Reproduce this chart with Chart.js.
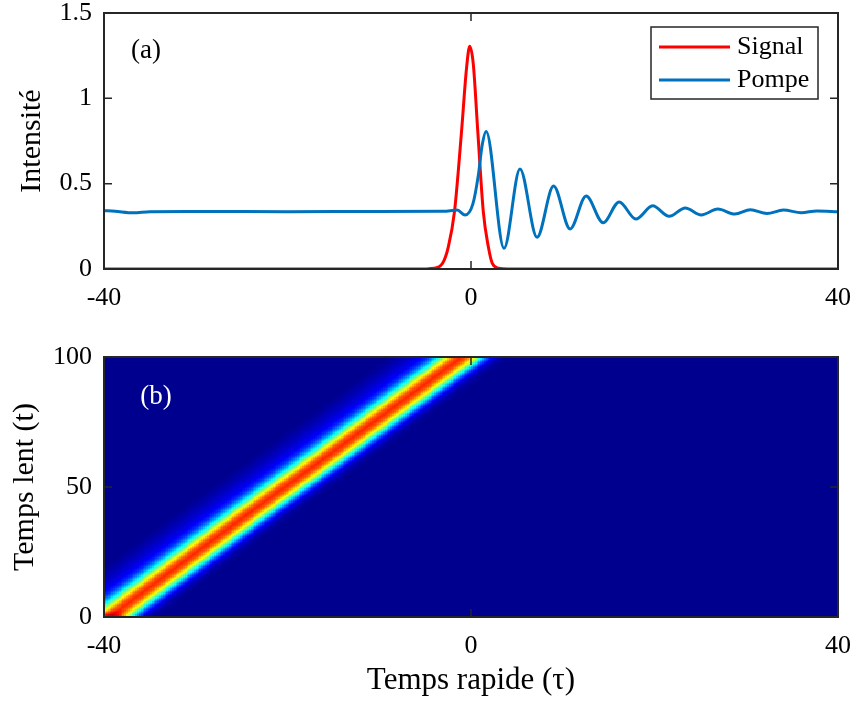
<!DOCTYPE html>
<html>
<head>
<meta charset="utf-8">
<script src="https://cdn.jsdelivr.net/npm/chart.js@4.4.1/dist/chart.umd.min.js"></script>
<style>
  html, body { margin: 0; padding: 0; background: #fff; }
  #wrap { position: relative; width: 855px; height: 702px; }
  #c1, #c2 { position: absolute; left: 0; }
  #c1 { top: 0; }
  #c2 { top: 330px; }
</style>
</head>
<body>
<div id="wrap">
  <canvas id="c1" width="855" height="330"></canvas>
  <canvas id="c2" width="855" height="372"></canvas>
</div>
<script>
// ---- axis ticks ----
const tauTicks = [-40, 0, 40];
const intensityTicks = [0, 0.5, 1, 1.5];
const slowTicks = [0, 50, 100];

// ---- (a) Signal ----
const signalTau = [-40, -6, -4, -3.1, -2.47, -1.8, -1.02, -0.5, -0.14, 0.25, 0.73, 1.34, 1.89, 2.32, 3, 4, 40];
const signalVal = [0, 0, 0.005, 0.033, 0.13, 0.336, 0.814, 1.17, 1.305, 1.2, 0.814, 0.336, 0.13, 0.033, 0.005, 0, 0];

// ---- (a) Pompe ----
const pumpTau = [-40, -38.8, -36.8, -35, -30, -20, -10, -3, -1.5, -0.65, 0.2, 0.8, 1.2, 1.65,
  3.6, 5.34, 7.2, 9.0, 10.8, 12.55, 14.4, 16.15, 17.97, 19.8, 21.6, 23.35, 25.1, 26.9, 28.75,
  30.45, 32.25, 34.05, 36.0, 37.7, 40];
const pumpVal = [0.342, 0.338, 0.329, 0.336, 0.337, 0.336, 0.337, 0.338, 0.345, 0.316, 0.38, 0.55, 0.72, 0.806,
  0.121, 0.586, 0.186, 0.486, 0.235, 0.428, 0.271, 0.393, 0.293, 0.37, 0.309, 0.358, 0.317, 0.351, 0.322,
  0.347, 0.325, 0.345, 0.33, 0.34, 0.336];

// ---- (b) map: band centre along slow time, and profile across the band (colour level 0..1) ----
const bandT = [0, 20, 40, 60, 80, 100];
const bandCenter = [-39.4, -31.8, -24.2, -16.4, -8.7, -1.0];
const bandGainT = [0, 1, 3, 100];
const bandGain = [1.2, 1.08, 1, 1];
const profileOffset = [-8, -7, -5.8, -4.4, -3.6, -2.9, -2.2, -1.45, -0.7, 0, 0.7, 1.45, 2.2, 2.9, 3.6, 4.4, 5.2];
const profileLevel = [0, 0.02, 0.05, 0.1, 0.16, 0.27, 0.42, 0.62, 0.78, 0.84, 0.78, 0.62, 0.4, 0.2, 0.08, 0.02, 0];

const FONT = "'Liberation Serif', 'Times New Roman', serif";
const AX = '#262626';

function interp(xs, ys, x) {
  if (x <= xs[0]) return ys[0];
  if (x >= xs[xs.length - 1]) return ys[ys.length - 1];
  for (let i = 1; i < xs.length; i++) {
    if (x <= xs[i]) {
      const f = (x - xs[i - 1]) / (xs[i] - xs[i - 1]);
      return ys[i - 1] + f * (ys[i] - ys[i - 1]);
    }
  }
}

const jetStops = [[0, [0, 0, 143]], [0.111, [0, 0, 255]], [0.365, [0, 255, 255]],
  [0.619, [255, 255, 0]], [0.873, [255, 0, 0]], [1, [128, 0, 0]]];
function jet(v) {
  v = Math.max(0, Math.min(1, v));
  for (let i = 1; i < jetStops.length; i++) {
    if (v <= jetStops[i][0]) {
      const a = jetStops[i - 1], b = jetStops[i];
      const f = (v - a[0]) / (b[0] - a[0]);
      const c = a[1].map((q, k) => Math.round(q + f * (b[1][k] - q)));
      return `rgb(${c[0]},${c[1]},${c[2]})`;
    }
  }
  return 'rgb(128,0,0)';
}

// box + inward ticks like matlab
function boxTicks(id) {
  return {
    id: id,
    afterDraw(chart) {
      const { ctx, chartArea: a, scales: { x, y } } = chart;
      ctx.save();
      ctx.strokeStyle = AX;
      ctx.lineWidth = 1.5;
      const L = 8;
      ctx.beginPath();
      x.ticks.forEach(t => {
        const px = x.getPixelForValue(t.value);
        ctx.moveTo(px, a.bottom); ctx.lineTo(px, a.bottom - L);
        ctx.moveTo(px, a.top); ctx.lineTo(px, a.top + L);
      });
      y.ticks.forEach(t => {
        const py = y.getPixelForValue(t.value);
        ctx.moveTo(a.left, py); ctx.lineTo(a.left + L, py);
        ctx.moveTo(a.right, py); ctx.lineTo(a.right - L, py);
      });
      ctx.stroke();
      ctx.lineWidth = 2;
      ctx.strokeRect(a.left, a.top, a.right - a.left, a.bottom - a.top);
      ctx.restore();
    }
  };
}

function fixedTicks(vals) {
  return scale => { scale.ticks = vals.map(v => ({ value: v })); };
}

const tickFont = { family: FONT, size: 26 };
const titleFont = { family: FONT, size: 30 };
const plainLabel = v => String(v);

// ---------- (a) ----------
const legendPlugin = {
  id: 'legendBox',
  afterDraw(chart) {
    const ctx = chart.ctx;
    ctx.save();
    ctx.fillStyle = '#fff';
    ctx.fillRect(651, 27, 167, 72);
    ctx.strokeStyle = AX;
    ctx.lineWidth = 1.5;
    ctx.strokeRect(651, 27, 167, 72);
    const items = [['Signal', '#ff0000', 47], ['Pompe', '#0072bd', 80]];
    ctx.font = `26px ${FONT}`;
    ctx.textBaseline = 'middle';
    items.forEach(([label, col, yy]) => {
      ctx.strokeStyle = col;
      ctx.lineWidth = 3;
      ctx.beginPath(); ctx.moveTo(659, yy); ctx.lineTo(730, yy); ctx.stroke();
      ctx.fillStyle = '#000';
      ctx.fillText(label, 737, yy);
    });
    ctx.font = `27px ${FONT}`;
    ctx.textAlign = 'center';
    ctx.fillText('(a)', 146, 51);
    ctx.restore();
  }
};

new Chart(document.getElementById('c1'), {
  type: 'line',
  data: {
    datasets: [
      {
        label: 'Pompe',
        data: pumpTau.map((t, i) => ({ x: t, y: pumpVal[i] })),
        borderColor: '#0072bd',
        borderWidth: 3,
        pointRadius: 0,
        cubicInterpolationMode: 'monotone'
      },
      {
        label: 'Signal',
        data: signalTau.map((t, i) => ({ x: t, y: signalVal[i] })),
        borderColor: '#ff0000',
        borderWidth: 3,
        pointRadius: 0,
        cubicInterpolationMode: 'monotone'
      }
    ]
  },
  options: {
    responsive: false,
    animation: false,
    devicePixelRatio: 1,
    layout: { padding: { top: 13, right: 17, left: 0, bottom: 0 } },
    plugins: { legend: { display: false }, tooltip: { enabled: false } },
    scales: {
      x: {
        type: 'linear', min: -40, max: 40,
        afterBuildTicks: fixedTicks(tauTicks),
        afterFit: s => { s.height = 61; s.paddingLeft = 0; s.paddingRight = 0; },
        grid: { display: false, drawTicks: false },
        border: { display: false },
        ticks: { font: tickFont, color: '#000', padding: 14, maxRotation: 0, callback: plainLabel }
      },
      y: {
        type: 'linear', min: 0, max: 1.5,
        afterBuildTicks: fixedTicks(intensityTicks),
        afterFit: s => { s.width = 104; s.paddingTop = 0; s.paddingBottom = 0; },
        grid: { display: false, drawTicks: false },
        border: { display: false },
        ticks: { font: tickFont, color: '#000', padding: 12, callback: plainLabel },
        title: { display: true, text: 'Intensité', font: titleFont, color: '#000', padding: { top: 14, bottom: 0 } }
      }
    }
  },
  plugins: [boxTicks('box1'), legendPlugin]
});

// ---------- (b) ----------
const heatPlugin = {
  id: 'heat',
  beforeDatasetsDraw(chart) {
    const { ctx, chartArea: a, scales: { x, y } } = chart;
    ctx.save();
    ctx.beginPath();
    ctx.rect(a.left, a.top, a.right - a.left, a.bottom - a.top);
    ctx.clip();
    const dTau = 0.2, dT = 0.5;
    for (let t = 0; t < 100; t += dT) {
      const tc = t + dT / 2;
      const c = interp(bandT, bandCenter, tc);
      const g = interp(bandGainT, bandGain, tc);
      const y0 = Math.round(y.getPixelForValue(t + dT)), y1 = Math.round(y.getPixelForValue(t));
      for (let tau = -40; tau < 40; tau += dTau) {
        const off = tau + dTau / 2 - c;
        let lev = 0;
        if (off > profileOffset[0] && off < profileOffset[profileOffset.length - 1]) {
          lev = g * interp(profileOffset, profileLevel, off);
        }
        const x0 = Math.round(x.getPixelForValue(tau)), x1 = Math.round(x.getPixelForValue(tau + dTau));
        ctx.fillStyle = jet(lev);
        ctx.fillRect(x0, y0, x1 - x0, y1 - y0);
      }
    }
    ctx.restore();
  },
  afterDatasetsDraw(chart) {
    const ctx = chart.ctx;
    ctx.save();
    ctx.font = `27px ${FONT}`;
    ctx.fillStyle = '#fff';
    ctx.textAlign = 'center';
    ctx.textBaseline = 'middle';
    ctx.fillText('(b)', 156, 67);
    ctx.restore();
  }
};

new Chart(document.getElementById('c2'), {
  type: 'scatter',
  data: { datasets: [{ data: [], pointRadius: 0 }] },
  options: {
    responsive: false,
    animation: false,
    devicePixelRatio: 1,
    layout: { padding: { top: 27, right: 17, left: 0, bottom: 0 } },
    plugins: { legend: { display: false }, tooltip: { enabled: false } },
    scales: {
      x: {
        type: 'linear', min: -40, max: 40,
        afterBuildTicks: fixedTicks(tauTicks),
        afterFit: s => { s.height = 85; s.paddingLeft = 0; s.paddingRight = 0; },
        grid: { display: false, drawTicks: false },
        border: { display: false },
        ticks: { font: tickFont, color: '#000', padding: 14, maxRotation: 0, callback: plainLabel },
        title: { display: true, text: 'Temps rapide (τ)', font: { family: FONT, size: 31 }, color: '#000', padding: { top: 0, bottom: 3 } }
      },
      y: {
        type: 'linear', min: 0, max: 100,
        afterBuildTicks: fixedTicks(slowTicks),
        afterFit: s => { s.width = 104; s.paddingTop = 0; s.paddingBottom = 0; },
        grid: { display: false, drawTicks: false },
        border: { display: false },
        ticks: { font: tickFont, color: '#000', padding: 12, callback: plainLabel },
        title: { display: true, text: 'Temps lent (t)', font: titleFont, color: '#000', padding: { top: 7, bottom: 0 } }
      }
    }
  },
  plugins: [heatPlugin, boxTicks('box2')]
});
</script>
</body>
</html>
